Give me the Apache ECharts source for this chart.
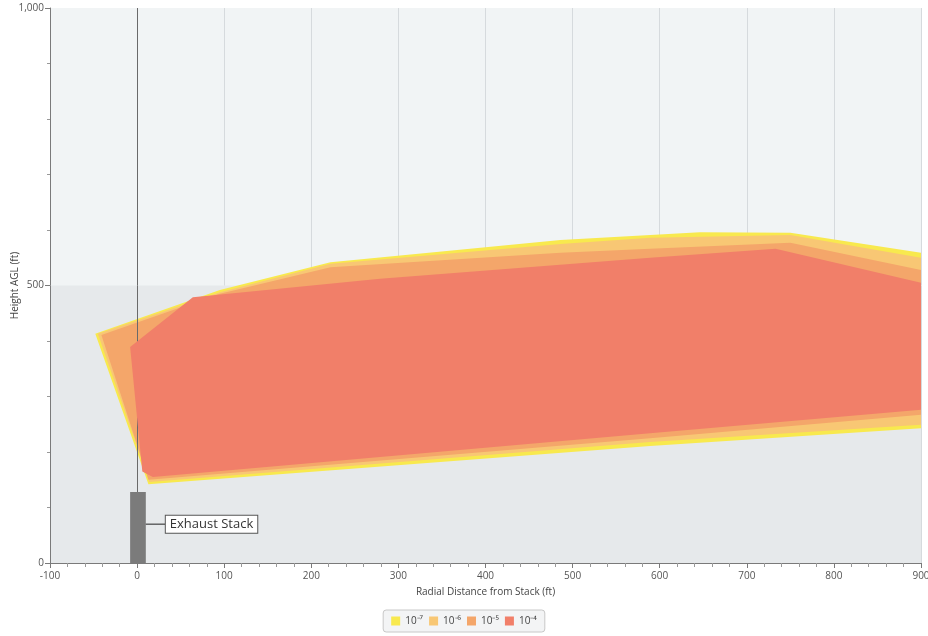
<!DOCTYPE html>
<html><head><meta charset="utf-8">
<script src="https://cdn.jsdelivr.net/npm/echarts@6/dist/echarts.min.js"></script>
<style>html,body{margin:0;padding:0;background:#fff}#c{width:928px;height:636px}</style>
</head><body><div id="c"></div>
<script>
// Contour polygons: [radial distance ft, height ft]
const contour7 = [[-48,413],[95,492],[222,542],[486,582],[646,596],[750,595],[900,559],[900,243],[589,211],[13,142]];
const contour6 = [[-45,413],[95,488],[222,539],[486,575],[589,586],[750,591],[900,550],[900,249],[589,218],[14,146]];
const contour5 = [[-41,411],[95,485],[222,533],[486,559],[589,566],[750,577],[900,528],[900,267],[589,225],[13,150]];
const contour4 = [[-8,389],[64,479],[279,512],[589,550],[733,566],[900,505],[900,276],[589,234],[18,155],[6,165]];
const contourNames = ['10⁻⁷','10⁻⁶','10⁻⁵','10⁻⁴'];
const contourColors = ['#f8e94e','#f8c774','#f4a66a','#f17f69'];
// Exhaust stack: [xLeft, xRight, height], label height
const stack = [-8, 10, 128];
const stackLabelY = 70;
const stackLabel = 'Exhaust Stack';
const xTicks = {min:-100, max:900, interval:100};
const yTicks = {min:0, max:1000, interval:500};

const chart = echarts.init(document.getElementById('c'));
function polySeries(name, pts, color, z){
  return {
    type:'custom', name:name, z:z, clip:true,
    itemStyle:{color:color},
    data: pts,
    renderItem:function(params, api){
      if(params.dataIndex!==0) return null;
      return {type:'polygon', shape:{points:pts.map(p=>api.coord(p))}, style:{fill:color}};
    }
  };
}
const series = [
  {
    type:'custom', name:'bg', z:0, silent:true,
    data:[], renderItem:()=>null,
    markArea:{silent:true, itemStyle:{color:'#e6e9eb'}, data:[[{yAxis:0},{yAxis:500}]]},
    markLine:{silent:true, symbol:'none', label:{show:false}, lineStyle:{color:'#6a6a6a', width:1, type:'solid'}, data:[{xAxis:0}]}
  },
  polySeries(contourNames[0], contour7, contourColors[0], 2),
  polySeries(contourNames[1], contour6, contourColors[1], 3),
  polySeries(contourNames[2], contour5, contourColors[2], 4),
  polySeries(contourNames[3], contour4, contourColors[3], 5),
  {
    type:'custom', name:'stack', z:6, silent:true,
    data:[stack],
    renderItem:function(params, api){
      const tl = api.coord([stack[0], stack[2]]);
      const br = api.coord([stack[1], 0]);
      const ly = api.coord([stack[1], stackLabelY]);
      return {type:'group', children:[
        {type:'rect', shape:{x:tl[0], y:tl[1], width:br[0]-tl[0], height:br[1]-tl[1]}, style:{fill:'#7b7b7b'}},
        {type:'line', shape:{x1:br[0], y1:ly[1], x2:br[0]+20, y2:ly[1]}, style:{stroke:'#222', lineWidth:1}},
        {type:'text', x:br[0]+20, y:ly[1], style:{text:stackLabel, fill:'#333', font:'13px "Open Sans", sans-serif',
          verticalAlign:'middle', align:'left', backgroundColor:'#fff', borderColor:'#555', borderWidth:1, padding:[2,4,2,4]}}
      ]};
    }
  }
];

chart.setOption({
  animation:false,
  backgroundColor:'#fff',
  grid:{left:50, right:7, top:8, bottom:73, containLabel:false, outerBoundsMode:'none',
    show:true, backgroundColor:'#f1f4f5', borderWidth:0},
  legend:{
    bottom:4, left:'center', data:contourNames, icon:'rect', itemWidth:9, itemHeight:9, itemGap:6,
    backgroundColor:'#f3f4f5', borderColor:'#c8c8c8', borderWidth:1, borderRadius:3, padding:[6,8],
    textStyle:{fontSize:10, color:'#444', fontFamily:'"Open Sans", sans-serif'}
  },
  xAxis:{
    type:'value', min:xTicks.min, max:xTicks.max, interval:xTicks.interval, z:1,
    name:'Radial Distance from Stack (ft)', nameLocation:'middle', nameGap:24, nameMoveOverlap:false,
    nameTextStyle:{fontSize:10, color:'#444', fontFamily:'"Open Sans", sans-serif'},
    axisLine:{onZero:false, lineStyle:{color:'#7a7a7a'}},
    axisTick:{show:true, length:5, lineStyle:{color:'#7a7a7a'}},
    minorTick:{show:true, splitNumber:5, length:4, lineStyle:{color:'#999'}},
    axisLabel:{fontSize:10, color:'#555', margin:8, fontFamily:'"Open Sans", sans-serif'},
    splitLine:{show:true, lineStyle:{color:'#d6dadd', width:1}}
  },
  yAxis:{
    type:'value', min:yTicks.min, max:yTicks.max, interval:yTicks.interval, z:1,
    name:'Height AGL (ft)', nameLocation:'middle', nameGap:30, nameMoveOverlap:false,
    nameTextStyle:{fontSize:10, color:'#444', fontFamily:'"Open Sans", sans-serif'},
    axisLine:{show:true, onZero:false, lineStyle:{color:'#7a7a7a'}},
    axisTick:{show:true, length:5, lineStyle:{color:'#7a7a7a'}},
    minorTick:{show:true, splitNumber:5, length:3, lineStyle:{color:'#999'}},
    axisLabel:{fontSize:10, color:'#555', margin:6, fontFamily:'"Open Sans", sans-serif',
      formatter:v=>v===1000?'1,000':String(v)},
    splitLine:{show:false}
  },
  series:series
});
</script></body></html>
